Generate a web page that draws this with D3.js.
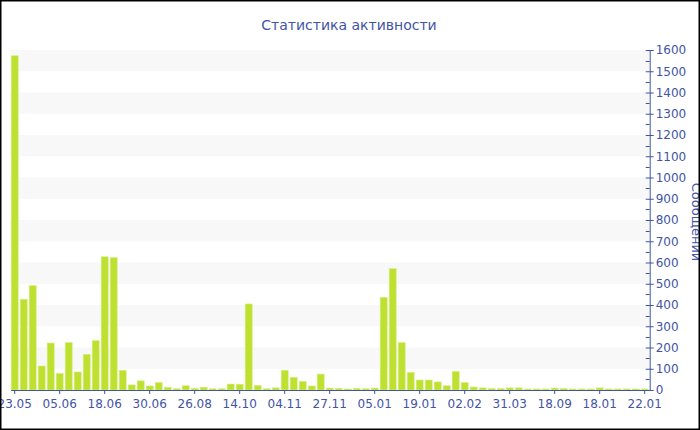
<!DOCTYPE html>
<html><head><meta charset="utf-8">
<script src="https://cdn.jsdelivr.net/npm/d3@7"></script>
<style>body{margin:0;background:#fff}svg{display:block}</style>
</head><body>
<svg id="c" width="700" height="430"></svg>
<script>
const title = "Статистика активности";
const yTitle = "Сообщений";
const values = [1573,427,491,113,221,78,223,85,168,232,
  627,623,93,24,43,19,35,13,6,20,
  8,13,6,6,28,27,405,22,6,10,
  93,60,41,19,75,9,8,5,8,6,
  9,436,571,223,83,47,47,38,20,88,
  35,14,10,7,7,10,10,5,5,5,
  9,7,5,5,5,10,5,5,5,5,5];
const tickLabels = ["23.05","05.06","18.06","30.06","26.08","14.10","04.11","27.11","05.01","19.01","02.02","31.03","18.09","18.01","22.01"];
const tickEvery = 5;
const yTicks = d3.range(0, 1601, 100);
const categories = values.map((v, i) => i);

(function () {
const svg = d3.select("#c");
const blue = "#4254a4";
const font = "DejaVu Sans, Verdana, sans-serif";
const pLeft = 10.2, pRight = 649.2, pTop = 50, pBottom = 390;

const x = d3.scaleBand().domain(categories).range([pLeft, pRight]).paddingInner(0.22).paddingOuter(0.11);
const y = d3.scaleLinear().domain([0, 1600]).range([pBottom, pTop]);

// alternating bands
const bands = d3.range(100, 1600, 200);
svg.append("g").selectAll("rect").data(bands).join("rect")
  .attr("x", pLeft).attr("width", pRight - pLeft)
  .attr("y", d => y(d + 100)).attr("height", d => y(d) - y(d + 100))
  .attr("fill", "#f8f8f8");

// bars
svg.append("g").selectAll("rect").data(values).join("rect")
  .attr("x", (d, i) => x(i)).attr("width", x.bandwidth())
  .attr("y", d => y(d)).attr("height", d => pBottom - y(d))
  .attr("fill", "#bde031").attr("stroke", "#d6ee86").attr("stroke-width", 0.6);

// x axis
const xAxis = d3.axisBottom(x)
  .tickValues(categories.filter(i => i % tickEvery === 0))
  .tickFormat(i => tickLabels[i / tickEvery])
  .tickSize(4).tickSizeOuter(0);
const gx = svg.append("g").attr("transform", `translate(0,${pBottom})`).call(xAxis);
gx.select(".domain").attr("stroke", blue).attr("d", `M${pLeft + 1},0.5H${pRight + 1}`);
gx.selectAll(".tick line").attr("stroke", blue);
gx.selectAll("text").attr("fill", blue).attr("font-size", 12).attr("font-family", font).attr("dy", "0.95em");

// right y axis
const yAxis = d3.axisRight(y).tickValues(yTicks).tickFormat(d3.format("d"))
  .tickSize(4).tickSizeOuter(0).tickPadding(2);
const gy = svg.append("g").attr("transform", `translate(${pRight + 0.5},0)`).call(yAxis);
gy.select(".domain").attr("stroke", blue);
gy.selectAll(".tick line").attr("stroke", blue).attr("x1", -4);
gy.selectAll("text").attr("fill", blue).attr("font-size", 12).attr("font-family", font);
// minor ticks
gy.append("g").selectAll("line").data(d3.range(50, 1600, 100)).join("line")
  .attr("x1", -4).attr("x2", 0).attr("y1", d => Math.round(y(d)) + 0.5).attr("y2", d => Math.round(y(d)) + 0.5)
  .attr("stroke", blue);

// y title
svg.append("text").attr("transform", "translate(692,222) rotate(90)")
  .attr("text-anchor", "middle").attr("fill", blue).attr("font-size", 13).attr("font-family", font)
  .text(yTitle);

// title
svg.append("text").attr("x", 349).attr("y", 30).attr("text-anchor", "middle")
  .attr("fill", blue).attr("font-size", 14).attr("font-family", font).text(title);

// border
svg.append("rect").attr("x", 0.75).attr("y", 0.75).attr("width", 698.5).attr("height", 428.5)
  .attr("fill", "none").attr("stroke", "#000").attr("stroke-width", 1.5);
})();
</script>
</body></html>
